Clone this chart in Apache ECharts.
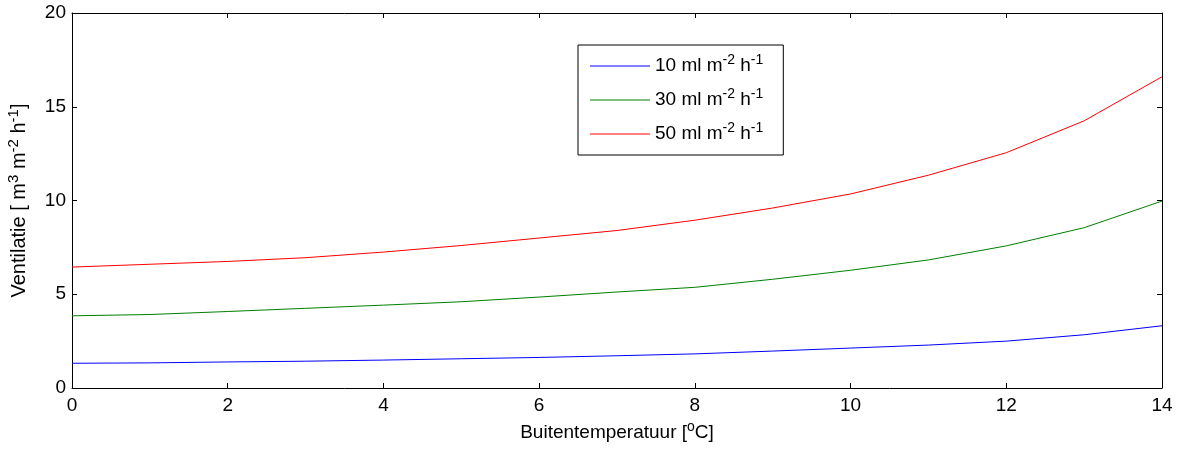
<!DOCTYPE html>
<html>
<head>
<meta charset="utf-8">
<script src="https://cdn.jsdelivr.net/npm/echarts@6/dist/echarts.min.js"></script>
<style>
html,body{margin:0;padding:0;background:#fff;}
#c{width:1177px;height:452px;}
</style>
</head>
<body>
<div id="c"></div>
<script>
const temps = [0,1,2,3,4,5,6,7,8,9,10,11,12,13,14];
const v10 = [1.32,1.34,1.39,1.43,1.49,1.56,1.63,1.72,1.82,1.97,2.13,2.29,2.50,2.84,3.32];
const v30 = [3.85,3.92,4.08,4.25,4.42,4.60,4.85,5.12,5.37,5.80,6.28,6.83,7.58,8.55,9.97];
const v50 = [6.45,6.60,6.75,6.95,7.25,7.60,8.00,8.40,8.95,9.60,10.35,11.35,12.55,14.25,16.60];
const seriesNames = ['10 ml m{sup|-2} h{sup|-1}','30 ml m{sup|-2} h{sup|-1}','50 ml m{sup|-2} h{sup|-1}'];
const seriesColors = ['#0000ff','#008000','#ff0000'];
const xTicks = {min:0,max:14,interval:2};
const yTicks = {min:0,max:20,interval:5};
const xName = 'Buitentemperatuur [{sup|o}C]';
const yName = 'Ventilatie [ m{sup|3} m{sup|-2} h{sup|-1}]';

const font = 'Liberation Sans, Arial, sans-serif';
const rich = {
  sup:{fontSize:14,fontFamily:font,color:'#000',verticalAlign:'top',lineHeight:13}
};
const rich20 = {
  sup:{fontSize:15,fontFamily:font,color:'#000',verticalAlign:'top',lineHeight:14}
};
const chart = echarts.init(document.getElementById('c'));
const allVals = [v10,v30,v50];
const axisCommon = {
  axisLine:{show:true,onZero:false,lineStyle:{color:'#000',width:1}},
  axisTick:{show:true,inside:true,length:5,lineStyle:{color:'#000'}},
  splitLine:{show:false}
};
const baseText = {fontSize:19,fontFamily:font,color:'#000',lineHeight:26,verticalAlign:'bottom',rich:rich};
const yNameText = {fontSize:20,fontFamily:font,color:'#000',lineHeight:28,verticalAlign:'bottom',rich:rich20};
chart.setOption({
  animation:false,
  backgroundColor:'#fff',
  grid:{left:72,right:15,top:13,bottom:64,containLabel:false,outerBoundsMode:'none'},
  legend:{
    orient:'vertical',
    left:578, top:45,
    padding:[8,20,8,12],
    itemGap:8,
    borderColor:'#000', borderWidth:1,
    backgroundColor:'#fff',
    icon:'rect', itemWidth:60, itemHeight:1,
    textStyle:baseText,
    data:seriesNames
  },
  xAxis:[
    Object.assign({type:'value',position:'bottom',min:xTicks.min,max:xTicks.max,interval:xTicks.interval,
      name:xName,nameLocation:'middle',nameGap:40,
      nameTextStyle:baseText,
      axisLabel:{fontSize:19,fontFamily:font,color:'#000',margin:8}},axisCommon),
    Object.assign({type:'value',position:'top',min:xTicks.min,max:xTicks.max,interval:xTicks.interval,
      axisLabel:{show:false}},axisCommon)
  ],
  yAxis:[
    Object.assign({type:'value',position:'left',min:yTicks.min,max:yTicks.max,interval:yTicks.interval,
      name:yName,nameLocation:'middle',nameGap:35,nameRotate:90,
      nameTextStyle:yNameText,
      axisLabel:{fontSize:19,fontFamily:font,color:'#000',margin:6}},axisCommon),
    Object.assign({type:'value',position:'right',min:yTicks.min,max:yTicks.max,interval:yTicks.interval,
      axisLabel:{show:false}},axisCommon)
  ],
  series: seriesNames.map((n,i)=>({
    name:n,type:'line',xAxisIndex:0,yAxisIndex:0,
    showSymbol:false,symbol:'none',
    lineStyle:{width:1,color:seriesColors[i]},
    itemStyle:{color:seriesColors[i]},
    data: temps.map((t,j)=>[t,allVals[i][j]])
  }))
});
</script>
</body>
</html>
